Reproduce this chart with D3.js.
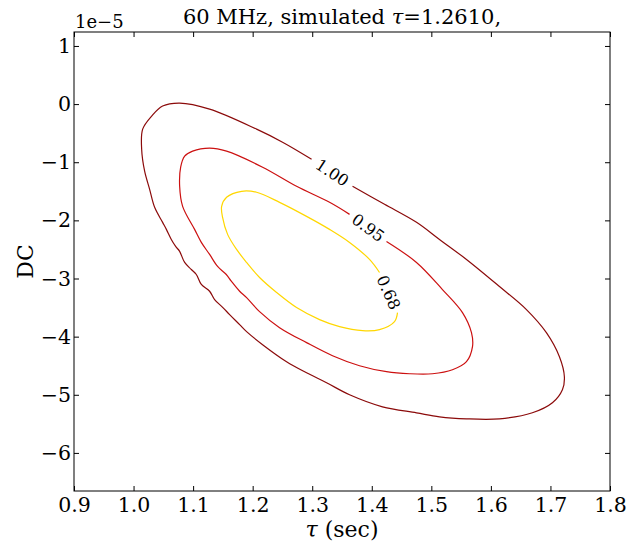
<!DOCTYPE html>
<html>
<head>
<meta charset="utf-8">
<script src="https://cdn.jsdelivr.net/npm/d3@7"></script>
<style>
  html, body { margin: 0; padding: 0; background: #fff; }
  svg text { font-family: "DejaVu Serif", "Liberation Serif", serif; }
</style>
</head>
<body>
<svg id="chart" width="630" height="544"></svg>
<script>
// Confidence contours in the (tau, DC) plane; DC values in units of 1e-5.
// Each contour runs from the end of its label gap round to the start of it.
const levels = ["1.00", "0.95", "0.68"];
const levelColors = ["#8b0a0a", "#cc1010", "#ffd700"];

const contour100 = [
  [1.3677,-1.414],[1.4214,-1.724],[1.4751,-2.034],[1.5137,-2.328],[1.5590,-2.672],
  [1.6144,-3.138],[1.6597,-3.534],[1.6932,-3.931],[1.7151,-4.345],[1.7234,-4.690],
  [1.7201,-4.914],[1.7033,-5.138],[1.6697,-5.310],[1.6144,-5.414],[1.5590,-5.414],
  [1.5137,-5.379],[1.4751,-5.310],[1.4180,-5.207],[1.3627,-5.000],[1.3241,-4.793],
  [1.2905,-4.621],[1.2569,-4.431],[1.2167,-4.138],[1.1898,-3.914],[1.1781,-3.793],
  [1.1613,-3.621],[1.1500,-3.500],[1.1361,-3.362],[1.1277,-3.219],[1.1138,-3.103],
  [1.1054,-2.931],[1.0970,-2.845],[1.0858,-2.724],[1.0774,-2.534],[1.0707,-2.448],
  [1.0634,-2.328],[1.0551,-2.155],[1.0488,-2.034],[1.0354,-1.776],[1.0270,-1.466],
  [1.0186,-1.155],[1.0136,-0.776],[1.0153,-0.431],[1.0304,-0.207],[1.0488,-0.034],
  [1.0774,0.017],[1.1277,-0.086],[1.2066,-0.431],[1.2502,-0.655],[1.2989,-0.948]
];

const contour095 = [
  [1.4247,-2.362],[1.4751,-2.724],[1.5187,-3.190],[1.5523,-3.586],[1.5674,-3.931],
  [1.5691,-4.172],[1.5590,-4.431],[1.5355,-4.569],[1.5019,-4.638],[1.4633,-4.638],
  [1.4247,-4.603],[1.3794,-4.500],[1.3341,-4.328],[1.2905,-4.103],[1.2452,-3.845],
  [1.2116,-3.569],[1.1898,-3.328],[1.1781,-3.219],[1.1641,-3.046],[1.1557,-2.931],
  [1.1411,-2.793],[1.1277,-2.586],[1.1138,-2.379],[1.1025,-2.155],[1.0824,-1.759],
  [1.0774,-1.414],[1.0791,-1.086],[1.0858,-0.897],[1.0992,-0.810],[1.1277,-0.759],
  [1.1562,-0.810],[1.2167,-1.086],[1.2737,-1.414],[1.3291,-1.690],[1.3627,-1.897]
];

const contour068 = [
  [1.4432,-3.586],[1.4382,-3.741],[1.4130,-3.879],[1.3845,-3.897],[1.3459,-3.828],
  [1.3123,-3.707],[1.2737,-3.500],[1.2402,-3.241],[1.2116,-2.983],[1.1898,-2.724],
  [1.1730,-2.500],[1.1579,-2.241],[1.1495,-1.948],[1.1479,-1.759],[1.1562,-1.603],
  [1.1814,-1.500],[1.2066,-1.517],[1.2452,-1.690],[1.2905,-1.931],[1.3291,-2.155],
  [1.3627,-2.379],[1.3962,-2.672],[1.4130,-2.897]
];

const contours = [contour100, contour095, contour068];

const xTicks = [0.9, 1.0, 1.1, 1.2, 1.3, 1.4, 1.5, 1.6, 1.7, 1.8];
const yTicks = [1, 0, -1, -2, -3, -4, -5, -6];
const xDomain = [0.9, 1.8];
const yDomain = [-6.655, 1.24];

const titleText = "60 MHz, simulated ";
const titleTau = "τ";
const titleValue = "=1.2610,";
const xLabelTau = "τ";
const xLabelRest = " (sec)";
const yLabel = "DC";
const offsetText = "1e\u22125";

const svg = d3.select("#chart");
const margin = { left: 74, right: 20, top: 32, bottom: 53 };
const W = 630, H = 544;

const x = d3.scaleLinear().domain(xDomain).range([margin.left, W - margin.right]);
const y = d3.scaleLinear().domain(yDomain).range([H - margin.bottom, margin.top]);

const fmtX = d3.format(".1f");
const fmtY = v => (v < 0 ? "\u2212" + Math.abs(v) : String(v));

// Contour lines
const line = d3.line().x(d => x(d[0])).y(d => y(d[1])).curve(d3.curveCatmullRom.alpha(0.5));
const plot = svg.append("g");
contours.forEach((pts, i) => {
  plot.append("path")
    .attr("d", line(pts))
    .attr("fill", "none")
    .attr("stroke", levelColors[i])
    .attr("stroke-width", 1.2)
    .attr("stroke-linejoin", "round");
  // Inline label placed in the gap between the path's last and first points
  const a = pts[pts.length - 1], b = pts[0];
  const ax = x(a[0]), ay = y(a[1]), bx = x(b[0]), by = y(b[1]);
  const cx = (ax + bx) / 2, cy = (ay + by) / 2;
  const ang = Math.atan2(by - ay, bx - ax) * 180 / Math.PI;
  plot.append("text")
    .attr("transform", `translate(${cx},${cy}) rotate(${ang})`)
    .attr("text-anchor", "middle")
    .attr("dominant-baseline", "central")
    .attr("font-size", 16)
    .attr("fill", "#000")
    .text(levels[i]);
});

// Frame
svg.append("rect")
  .attr("x", margin.left).attr("y", margin.top)
  .attr("width", W - margin.left - margin.right)
  .attr("height", H - margin.top - margin.bottom)
  .attr("fill", "none").attr("stroke", "#000").attr("stroke-width", 1);

// Axes with inward ticks on all four sides
const tickLen = 5;
const axBottom = svg.append("g").attr("transform", `translate(0,${H - margin.bottom})`)
  .call(d3.axisBottom(x).tickValues(xTicks).tickFormat(fmtX).tickSizeInner(-tickLen).tickSizeOuter(0).tickPadding(6.5));
const axTop = svg.append("g").attr("transform", `translate(0,${margin.top})`)
  .call(d3.axisTop(x).tickValues(xTicks).tickFormat("").tickSizeInner(-tickLen).tickSizeOuter(0));
const axLeft = svg.append("g").attr("transform", `translate(${margin.left},0)`)
  .call(d3.axisLeft(y).tickValues(yTicks).tickFormat(fmtY).tickSizeInner(-tickLen).tickSizeOuter(0).tickPadding(3));
const axRight = svg.append("g").attr("transform", `translate(${W - margin.right},0)`)
  .call(d3.axisRight(y).tickValues(yTicks).tickFormat("").tickSizeInner(-tickLen).tickSizeOuter(0));

[axBottom, axTop, axLeft, axRight].forEach(g => {
  g.select(".domain").remove();
  g.selectAll(".tick line").attr("stroke", "#000");
  g.selectAll("text").attr("font-family", "DejaVu Serif, serif").attr("font-size", 20.5).attr("fill", "#000");
});

// Title
const title = svg.append("text")
  .attr("x", (margin.left + W - margin.right) / 2).attr("y", 24)
  .attr("text-anchor", "middle").attr("font-size", 21);
title.append("tspan").text(titleText);
title.append("tspan").attr("font-style", "italic").text(titleTau);
title.append("tspan").text(titleValue);

// Offset text for the y axis
svg.append("text")
  .attr("x", margin.left + 1).attr("y", 28)
  .attr("font-size", 18).text(offsetText);

// Axis labels
const xl = svg.append("text")
  .attr("x", (margin.left + W - margin.right) / 2).attr("y", 537)
  .attr("text-anchor", "middle").attr("font-size", 22);
xl.append("tspan").attr("font-style", "italic").text(xLabelTau);
xl.append("tspan").text(xLabelRest);

svg.append("text")
  .attr("transform", `translate(33,${(margin.top + H - margin.bottom) / 2}) rotate(-90)`)
  .attr("text-anchor", "middle").attr("font-size", 22).text(yLabel);
</script>
</body>
</html>
